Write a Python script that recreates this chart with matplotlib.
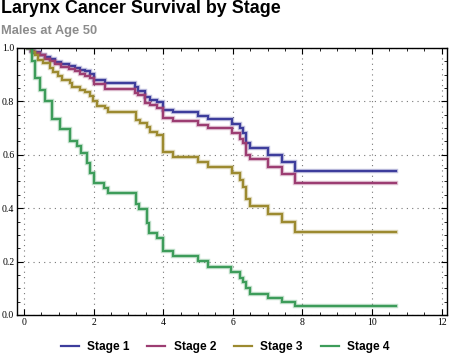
import matplotlib
matplotlib.use("Agg")
import matplotlib.pyplot as plt
from matplotlib.ticker import MultipleLocator
import numpy as np

# step event times and survival after each step
stage1_t = [0.1, 0.2, 0.3, 0.45, 0.6, 0.75, 0.9, 1.05, 1.3, 1.45, 1.6, 1.75, 1.9, 2.0, 2.33,
            3.19, 3.28, 3.47, 3.62, 3.81, 3.98, 4.29, 5.0, 5.29, 5.98, 6.2, 6.3, 6.39, 6.49,
            7.0, 7.4, 7.8, 10.7]
stage1_s = [1.0, 0.99, 0.985, 0.975, 0.965, 0.958, 0.948, 0.94, 0.933, 0.925, 0.918, 0.912,
            0.903, 0.878, 0.868, 0.853, 0.84, 0.815, 0.805, 0.797, 0.768, 0.759, 0.745, 0.733,
            0.715, 0.699, 0.683, 0.645, 0.624, 0.599, 0.574, 0.540, 0.540]

stage2_t = [0.1, 0.2, 0.3, 0.45, 0.6, 0.75, 0.9, 1.05, 1.3, 1.45, 1.6, 1.75, 1.9, 2.0, 2.33,
            3.19, 3.28, 3.47, 3.62, 3.81, 3.98, 4.29, 5.0, 5.29, 5.98, 6.2, 6.3, 6.39, 6.49,
            7.0, 7.4, 7.78, 10.7]
stage2_s = [1.0, 0.99, 0.982, 0.972, 0.96, 0.952, 0.94, 0.93, 0.92, 0.912, 0.903, 0.895,
            0.887, 0.865, 0.846, 0.83, 0.824, 0.795, 0.787, 0.774, 0.737, 0.727, 0.712, 0.699,
            0.680, 0.659, 0.643, 0.599, 0.583, 0.555, 0.528, 0.493, 0.493]

stage3_t = [0.12, 0.22, 0.32, 0.41, 0.55, 0.75, 0.84, 0.98, 1.08, 1.32, 1.37, 1.61, 1.75,
            1.9, 1.97, 2.09, 2.33, 2.42, 3.22, 3.33, 3.52, 3.62, 3.81, 4.0, 4.29, 5.0, 5.29,
            5.99, 6.2, 6.3, 6.39, 6.49, 7.0, 7.4, 7.78, 10.7]
stage3_s = [1.0, 0.986, 0.974, 0.955, 0.943, 0.924, 0.911, 0.893, 0.880, 0.868, 0.855,
            0.843, 0.834, 0.818, 0.80, 0.784, 0.774, 0.761, 0.730, 0.72, 0.705, 0.686, 0.674,
            0.612, 0.593, 0.574, 0.553, 0.531, 0.506, 0.481, 0.434, 0.408, 0.378, 0.35, 0.312,
            0.312]

stage4_t = [0.12, 0.22, 0.32, 0.46, 0.6, 0.8, 1.03, 1.32, 1.51, 1.64, 1.82, 1.9, 2.02, 2.3,
            2.42, 3.22, 3.31, 3.52, 3.6, 3.81, 4.0, 4.29, 5.0, 5.29, 5.96, 6.2, 6.3, 6.39,
            6.49, 7.0, 7.4, 7.78, 10.7]
stage4_s = [1.0, 0.952, 0.886, 0.843, 0.80, 0.734, 0.695, 0.653, 0.633, 0.608, 0.57, 0.532,
            0.493, 0.474, 0.456, 0.416, 0.396, 0.343, 0.308, 0.29, 0.24, 0.221, 0.202, 0.181,
            0.162, 0.140, 0.122, 0.1, 0.078, 0.062, 0.049, 0.034, 0.034]

labels = ["Stage 1", "Stage 2", "Stage 3", "Stage 4"]
colors = ["#3d3d9c", "#9c3d72", "#9c8a30", "#3d9c5a"]
series = [(stage1_t, stage1_s), (stage2_t, stage2_s), (stage3_t, stage3_s), (stage4_t, stage4_s)]

fig = plt.figure(figsize=(4.5, 3.6), dpi=100)
ax = fig.add_axes([0.038, 0.125, 0.955, 0.742])

for (t, s), c, lab in zip(series, colors, labels):
    ax.step(t, s, where="post", color=c, lw=3.2, alpha=0.3, solid_joinstyle="miter")
    ax.step(t, s, where="post", color=c, lw=1.6, label=lab, solid_joinstyle="miter")

ax.set_xlim(-0.2, 12.15)
ax.set_ylim(0, 1.0)
ax.xaxis.set_major_locator(MultipleLocator(2))
ax.xaxis.set_minor_locator(MultipleLocator(0.5))
ax.yaxis.set_major_locator(MultipleLocator(0.2))
ax.yaxis.set_minor_locator(MultipleLocator(0.05))
ax.tick_params(which="both", direction="in", top=True, right=True, labelsize=7,
               labelfontfamily="Liberation Serif", pad=2)
ax.tick_params(which="major", length=4, width=0.8)
ax.tick_params(which="minor", length=2.2, width=0.6)
ax.grid(True, which="major", color="#777777", linestyle=(0, (1, 3.8)), lw=0.8)
for sp in ax.spines.values():
    sp.set_linewidth(1.0)

fig.text(0.003, 0.963, "Larynx Cancer Survival by Stage", fontsize=12.9, fontweight="bold",
         family="Liberation Sans", va="baseline")
fig.text(0.003, 0.905, "Males at Age 50", fontsize=9.3, fontweight="bold", color="#8c8c8c",
         family="Liberation Sans", va="baseline")

fig.legend(loc="center", bbox_to_anchor=(0.5, 0.035), ncol=4, frameon=False,
           prop={"family": "Liberation Sans", "weight": "bold", "size": 8.6},
           handlelength=1.5, columnspacing=1.5, handletextpad=0.7)

fig.savefig("out.png", dpi=100)
